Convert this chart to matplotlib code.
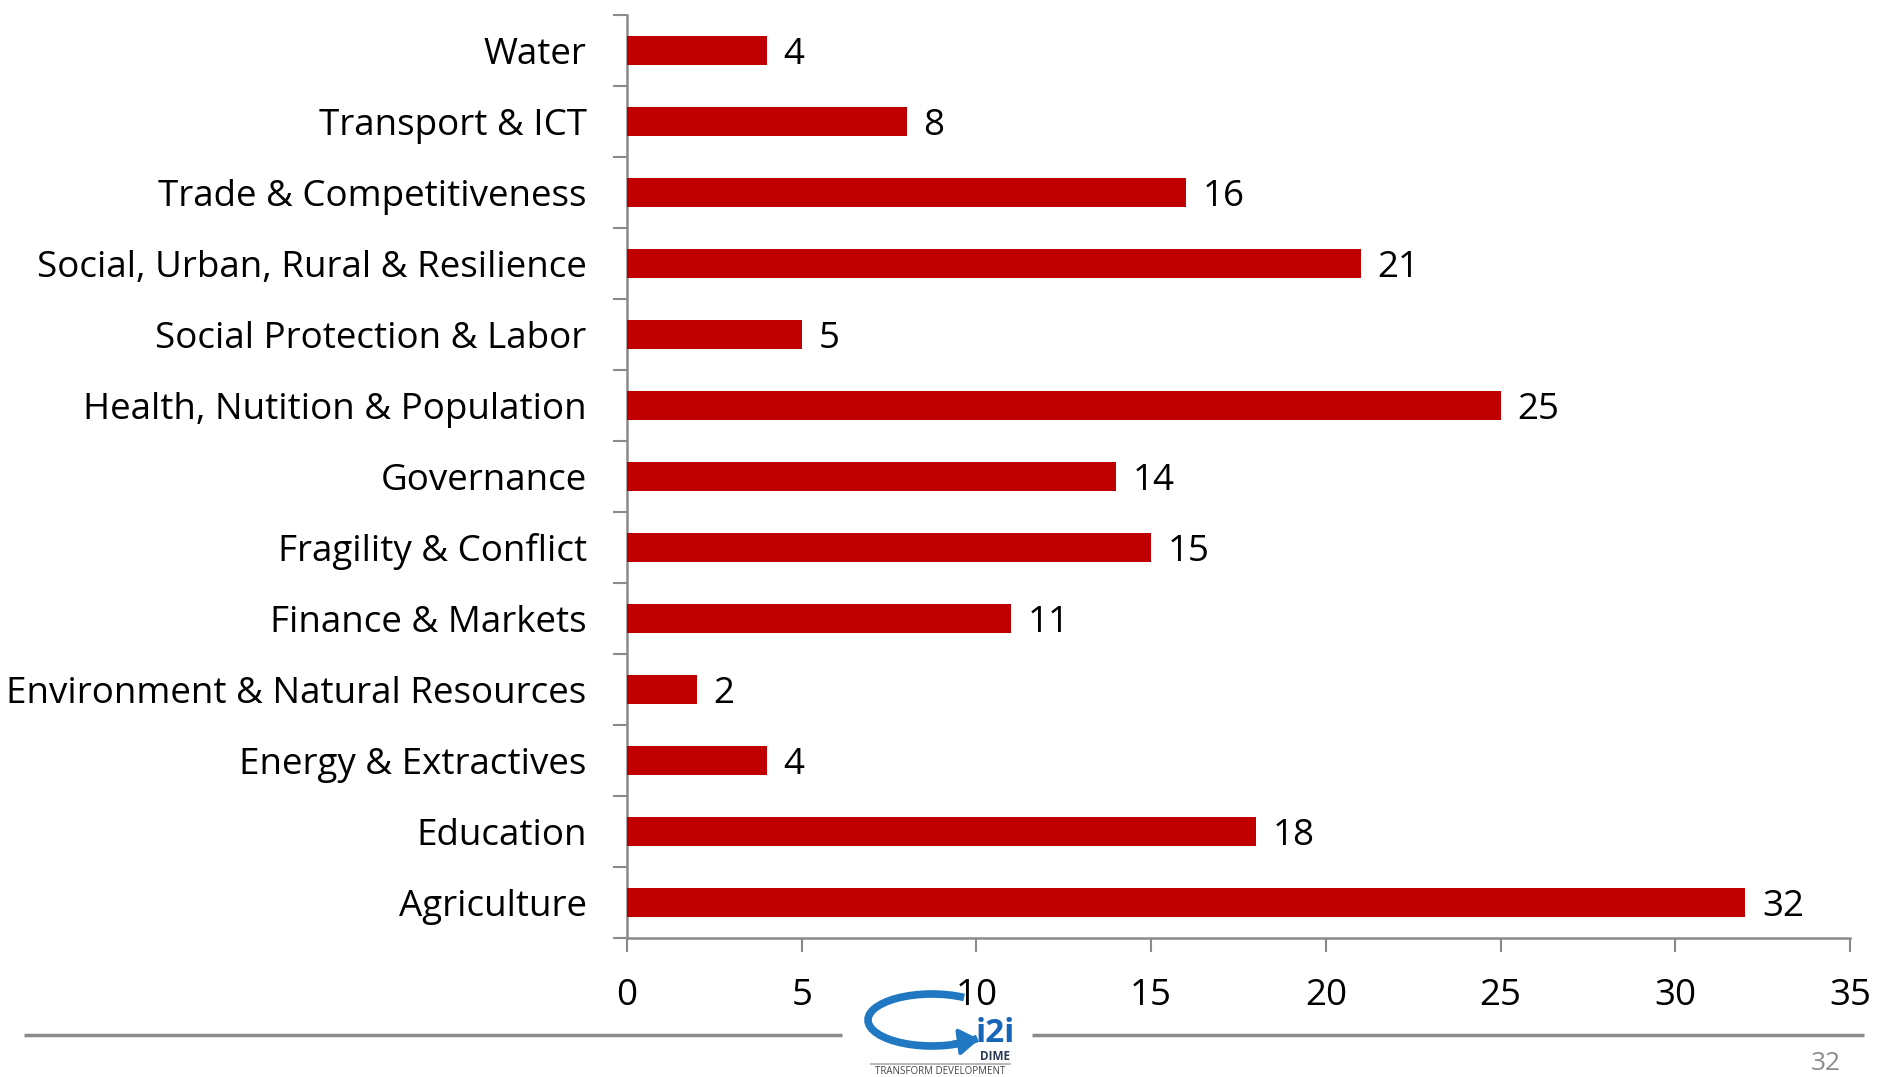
import matplotlib
matplotlib.use("Agg")
import matplotlib.pyplot as plt
from matplotlib.patches import Arc, FancyArrowPatch
import numpy as np

categories = ["Agriculture", "Education", "Energy & Extractives",
              "Environment & Natural Resources", "Finance & Markets",
              "Fragility & Conflict", "Governance",
              "Health, Nutition & Population", "Social Protection & Labor",
              "Social, Urban, Rural & Resilience", "Trade & Competitiveness",
              "Transport & ICT", "Water"]
values = [32, 18, 4, 2, 11, 15, 14, 25, 5, 21, 16, 8, 4]
x_ticks = [0, 5, 10, 15, 20, 25, 30, 35]
page_number = "32"

FONT = ["Open Sans", "DejaVu Sans"]
W, H = 1877, 1077
fig = plt.figure(figsize=(W / 100, H / 100), dpi=100)

# overlay (pixel coordinates) for slide decoration
ov = fig.add_axes([0, 0, 1, 1])
ov.set_xlim(0, W)
ov.set_ylim(H, 0)
ov.axis("off")
gray = "#8a8a8a"
ov.plot([24, 842], [1035, 1035], color=gray, lw=2.5, solid_capstyle="butt")
ov.plot([1032, 1864], [1035, 1035], color=gray, lw=2.5, solid_capstyle="butt")
ov.text(1826, 1063, page_number, color="#8c8c8c", fontsize=19, family=FONT,
        ha="center", va="center")
# logo
ov.add_patch(Arc((932, 1020), 128, 52, theta1=22, theta2=325, color="#1f78c1", lw=5.5))
ov.add_patch(FancyArrowPatch((950, 1043), (982, 1039), arrowstyle="-|>,head_length=6,head_width=4",
                             color="#1f78c1", lw=3, mutation_scale=2))
ov.text(995, 1034, "i2i", color="#1565b8", fontsize=24, fontweight="bold", family=FONT,
        ha="center", va="center")
ov.text(995, 1056, "DIME", color="#2b3a55", fontsize=8.5, fontweight="bold", family=FONT,
        ha="center", va="center")
ov.plot([871, 1010], [1064, 1064], color="#aaaaaa", lw=1.2)
ov.text(940, 1072, "TRANSFORM DEVELOPMENT", color="#444444", fontsize=7, family=FONT,
        ha="center", va="center")

ax = fig.add_axes([627 / W, 1 - 938 / H, (1850 - 627) / W, (938 - 15) / H])
ax.patch.set_alpha(0)
y = np.arange(len(categories))
ax.barh(y, values, height=0.4, color="#C00000", zorder=3)
for yi, v in zip(y, values):
    ax.annotate(str(v), (v, yi), xytext=(12, -3), textcoords="offset points",
                ha="left", va="center", fontsize=26.5, family=FONT, color="black")

ax.set_xlim(0, 35)
ax.set_ylim(-0.5, len(categories) - 0.5)
ax.set_xticks(x_ticks)
ax.set_xticklabels([str(t) for t in x_ticks], fontsize=26.5, family=FONT)
ax.set_yticks(y)
ax.set_yticklabels(categories, fontsize=26.5, family=FONT)
ax.set_yticks(np.arange(len(categories) + 1) - 0.5, minor=True)
ax.tick_params(axis="y", which="major", length=0, pad=29)
ax.tick_params(axis="y", which="minor", length=10, width=1.5, color=gray, direction="out")
ax.tick_params(axis="x", which="major", length=10, width=1.5, color=gray, pad=19)
for s in ["top", "right"]:
    ax.spines[s].set_visible(False)
for s in ["left", "bottom"]:
    ax.spines[s].set_color(gray)
    ax.spines[s].set_linewidth(1.8)

fig.savefig("out.png", dpi=100)
